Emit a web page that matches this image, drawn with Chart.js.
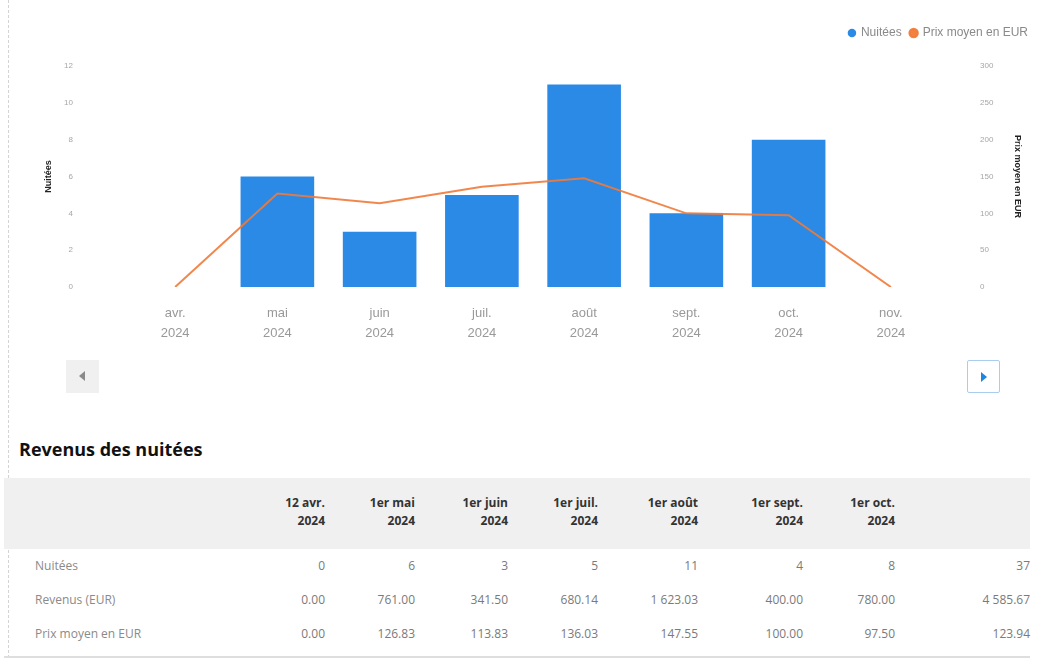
<!DOCTYPE html>
<html lang="fr">
<head>
<meta charset="utf-8">
<title>Revenus des nuitées</title>
<script src="https://cdn.jsdelivr.net/npm/chart.js@4.4.1/dist/chart.umd.min.js"></script>
<style>
    html, body { margin: 0; padding: 0; background: #fff; }
    body { width: 1038px; height: 658px; overflow: hidden; position: relative; font-family: "Open Sans", "Noto Sans", sans-serif; }
    .page-edge { position: absolute; left: 8px; top: 0; bottom: 0; border-left: 1px dashed #d4d4d4; }
    #chartBox { position: absolute; left: 0; top: 0; width: 1038px; height: 364px; }
    .nav-btn { position: absolute; width: 33px; height: 33px; box-sizing: border-box; }
    .nav-prev { left: 66px; top: 360px; background: #f0f0f0; }
    .nav-next { left: 967px; top: 360px; background: #fff; border: 1px solid #a9cdef; border-radius: 2px; }
    .nav-btn i { position: absolute; top: 11px; width: 0; height: 0; border-top: 5px solid transparent; border-bottom: 5px solid transparent; }
    .nav-prev i { left: 13px; border-right: 6px solid #8a8a8a; }
    .nav-next i { left: 13px; border-left: 6px solid #1e86e0; }
    h2 { position: absolute; left: 19px; top: 437px; margin: 0; font-size: 18px; line-height: 24px; font-weight: 700; color: #111; }
    table { position: absolute; left: 4px; top: 478px; width: 1026px; border-collapse: collapse; table-layout: fixed; font-size: 12px; }
    thead th { background: #f0f0f0; height: 67px; padding: 0 0 4px 0; text-align: right; font-weight: 700; color: #333; line-height: 18px; vertical-align: middle; }
    tbody td { height: 34px; padding: 0; text-align: right; color: #7a7a7a; line-height: 34px; }
    tbody td:first-child { text-align: left; padding-left: 31px; color: #8a8a8a; }
    tbody tr:last-child td { border-bottom: 2px solid #dedede; padding-bottom: 5px; }
</style>
</head>
<body>
<div class="page-edge"></div>
<div id="chartBox"><canvas id="chartNuitees"></canvas></div>
<div class="nav-btn nav-prev"><i></i></div>
<div class="nav-btn nav-next"><i></i></div>
<h2>Revenus des nuitées</h2>
<table id="tableRevenus">
    <colgroup>
        <col style="width:231px"><col style="width:90px"><col style="width:90px"><col style="width:93px"><col style="width:90px">
        <col style="width:100px"><col style="width:105px"><col style="width:92px"><col style="width:135px">
    </colgroup>
    <thead><tr id="enteteTableau"></tr></thead>
    <tbody id="corpsTableau"></tbody>
</table>
<script>
// --- données du graphique ---
const mois = [['avr.', '2024'], ['mai', '2024'], ['juin', '2024'], ['juil.', '2024'], ['août', '2024'], ['sept.', '2024'], ['oct.', '2024'], ['nov.', '2024']];
const nuitees = [0, 6, 3, 5, 11, 4, 8, 0];
const prixMoyen = [0, 126.83, 113.83, 136.03, 147.55, 100.00, 97.50, 0];

// --- données du tableau ---
const colonnesTableau = [['12 avr.', '2024'], ['1er mai', '2024'], ['1er juin', '2024'], ['1er juil.', '2024'], ['1er août', '2024'], ['1er sept.', '2024'], ['1er oct.', '2024']];
const nuiteesTableau = [0, 6, 3, 5, 11, 4, 8];
const totalNuitees = 37;
const revenus = [0.00, 761.00, 341.50, 680.14, 1623.03, 400.00, 780.00];
const totalRevenus = 4585.67;
const prixTableau = [0.00, 126.83, 113.83, 136.03, 147.55, 100.00, 97.50];
const totalPrix = 123.94;

function fmt(v) {
    const [ent, dec] = v.toFixed(2).split('.');
    return ent.replace(/\B(?=(\d{3})+(?!\d))/g, '\u00a0') + '.' + dec;
}

function remplirTableau() {
    const entete = document.getElementById('enteteTableau');
    entete.innerHTML = '<th></th>' + colonnesTableau.map(c => `<th>${c[0]}<br>${c[1]}</th>`).join('') + '<th></th>';
    const lignes = [
        ['Nuitées', nuiteesTableau.map(String), String(totalNuitees)],
        ['Revenus (EUR)', revenus.map(fmt), fmt(totalRevenus)],
        ['Prix moyen en EUR', prixTableau.map(fmt), fmt(totalPrix)]
    ];
    document.getElementById('corpsTableau').innerHTML = lignes.map(([lib, vals, tot]) =>
        `<tr><td>${lib}</td>${vals.map(v => `<td>${v}</td>`).join('')}<td>${tot}</td></tr>`).join('');
}

document.addEventListener('DOMContentLoaded', () => {
    remplirTableau();

    // légende : espace sous la légende et décalage vers le bord droit
    const legendGap = {
        id: 'legendGap',
        beforeInit(chart) {
            const fitOrig = chart.legend.fit;
            chart.legend.fit = function fit() {
                fitOrig.bind(chart.legend)();
                this.height = 48;
            };
        },
        afterLayout(chart) {
            chart.legend.right += 10;
        }
    };

    new Chart(document.getElementById('chartNuitees'), {
        type: 'bar',
        data: {
            labels: mois,
            datasets: [{
                type: 'bar',
                label: 'Nuitées',
                data: nuitees,
                backgroundColor: '#2a8ae6',
                yAxisID: 'y',
                order: 2,
                pointStyle: 'circle'
            }, {
                type: 'line',
                label: 'Prix moyen en EUR',
                data: prixMoyen,
                borderColor: 'rgba(240, 122, 58, 0.9)',
                backgroundColor: '#f2803f',
                borderWidth: 2,
                pointRadius: 0,
                pointHoverRadius: 0,
                tension: 0,
                yAxisID: 'y1',
                order: 1,
                pointStyle: 'circle'
            }]
        },
        options: {
            responsive: true,
            maintainAspectRatio: false,
            animation: false,
            layout: { padding: { left: 39, right: 11, top: 18, bottom: 4 } },
            plugins: {
                legend: {
                    position: 'top',
                    align: 'end',
                    labels: {
                        usePointStyle: true,
                        boxWidth: 6,
                        boxHeight: 6,
                        padding: 9,
                        color: '#8a8a8a',
                        font: { size: 12 },
                        sort: (a, b) => a.datasetIndex - b.datasetIndex
                    }
                },
                tooltip: { enabled: false }
            },
            scales: {
                x: {
                    grid: { display: false, drawTicks: false },
                    border: { display: false },
                    ticks: { color: '#999', padding: 17, maxRotation: 0, font: { size: 13, lineHeight: 1.5 } }
                },
                y: {
                    position: 'left',
                    min: 0,
                    max: 12,
                    grid: { display: false, drawTicks: false },
                    border: { display: false },
                    ticks: { stepSize: 2, color: '#a6a6a6', padding: 51, font: { size: 8 } },
                    title: { display: true, text: 'Nuitées', color: '#222', font: { size: 9, weight: 'bold' } },
                    afterFit(scale) { scale.width = 85; }
                },
                y1: {
                    position: 'right',
                    min: 0,
                    max: 300,
                    grid: { display: false, drawTicks: false },
                    border: { display: false },
                    ticks: { stepSize: 50, color: '#a6a6a6', padding: 38, font: { size: 8 } },
                    title: { display: true, text: 'Prix moyen en EUR', color: '#222', font: { size: 9, weight: 'bold' } },
                    afterFit(scale) { scale.width = 85; }
                }
            }
        },
        plugins: [legendGap]
    });
});
</script>
</body>
</html>
